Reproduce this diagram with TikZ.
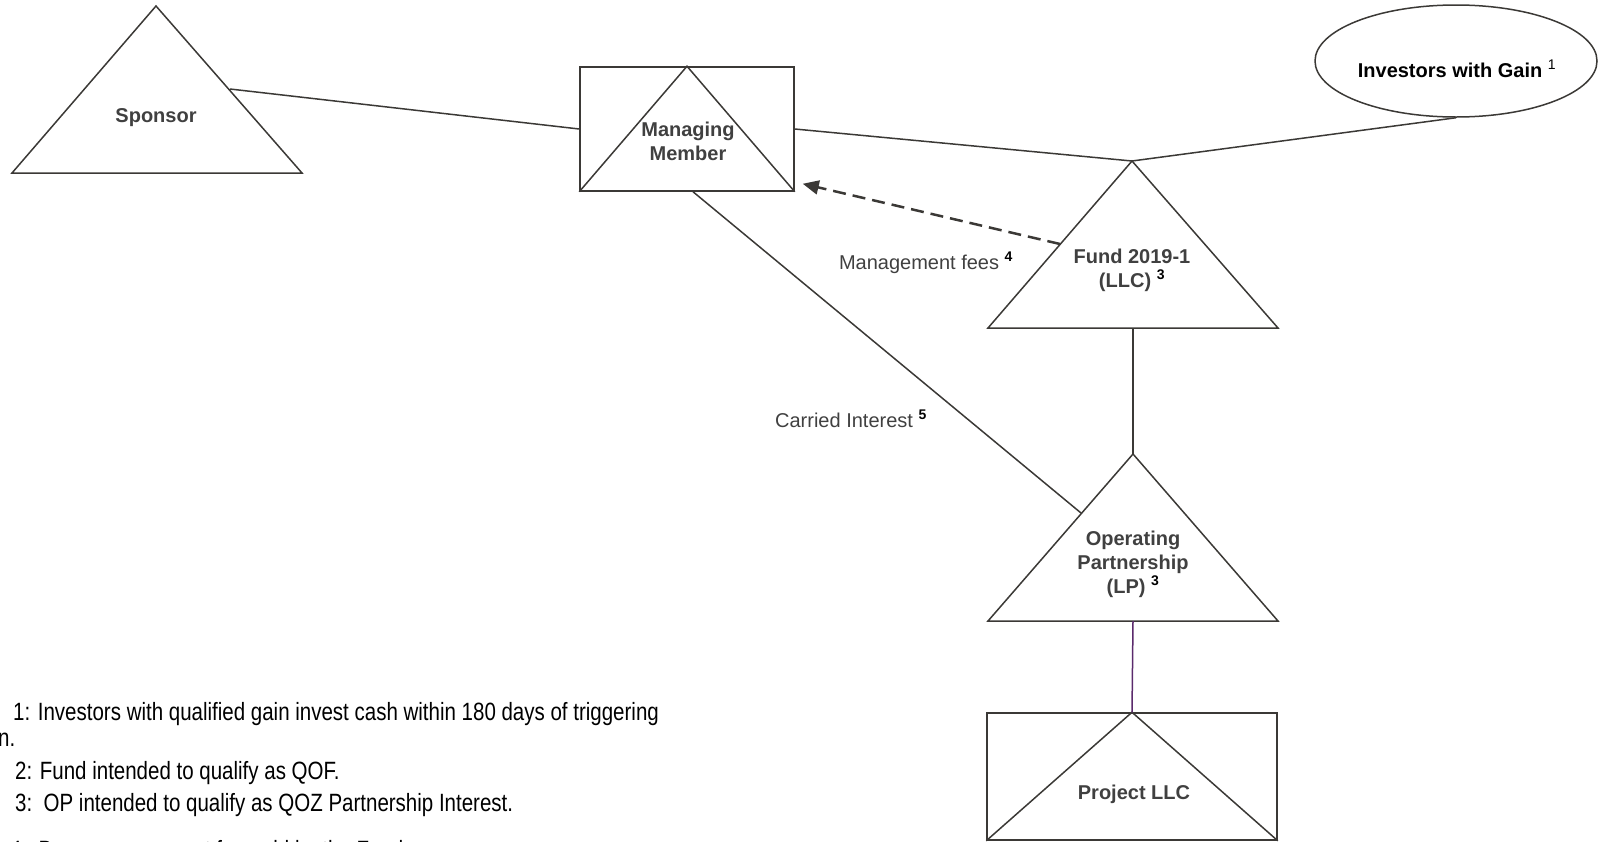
\documentclass[tikz,border=0pt]{standalone}
\usepackage{fontspec}
\setmainfont{Liberation Sans}
\newfontfamily\notefont[FakeStretch=0.82]{Liberation Sans}
\usetikzlibrary{shapes.geometric, arrows.meta, positioning}
\definecolor{mline}{HTML}{3B3936}
\definecolor{mtext}{HTML}{404040}
\definecolor{mpurp}{HTML}{5A2A6C}
\tikzstyle{entity} = [text=mtext, font=\bfseries\fontsize{20}{24}\selectfont, align=center, inner sep=0pt]
\tikzstyle{box} = [rectangle, draw=mline, line width=1.5pt, inner sep=0pt]
\tikzstyle{holder} = [ellipse, draw=mline, line width=1.5pt, inner sep=0pt]
\tikzstyle{wedge} = [draw=mline, line width=1.5pt, line join=miter]
\tikzstyle{link} = [draw=mline, line width=1.5pt]
\tikzstyle{fees} = [draw=mline, line width=2.5pt, dash pattern=on 13pt off 7pt, -{Triangle[length=16pt, width=14pt]}]
\tikzstyle{flow} = [text=mtext, font=\fontsize{20}{24}\selectfont, inner sep=0pt, anchor=base]
\tikzstyle{note} = [text=black, font=\notefont\fontsize{25}{29}\selectfont, inner sep=0pt, anchor=base west]
\newcommand{\fn}[1]{\textsuperscript{\color{black}\bfseries #1}}

\begin{document}
\begin{tikzpicture}[x=1pt, y=-1pt]
\useasboundingbox (0,0) rectangle (1602,841);
%Sponsor
\draw [wedge] (12,173) -- (156,6) -- (302,173) -- cycle;
\coordinate (sp-r) at (230,89);
\node (sponsor) [entity, anchor=base] at (156,122) {Sponsor};
%Managing Member
\node (mm) [box, minimum width=214pt, minimum height=124pt] at (687,129) {};
\draw [wedge] (mm.south west) -- (mm.north) -- (mm.south east);
\node (mmtext) [entity] at (688,141) {Managing\\Member};
%Investors
\node (inv) [holder, minimum width=282pt, minimum height=112pt] at (1456,61) {};
\node (invtext) [entity, text=black, anchor=base] at (1457,77) {Investors with Gain \textsuperscript{\mdseries 1}};
%Fund
\draw [wedge] (988,328) -- (1132,161) coordinate (fund-top) -- (1278,328) -- cycle;
\coordinate (fund-bot) at (1133,328);
\coordinate (fund-l) at (1060,244);
\node (fund) [entity] at (1132,270) {Fund 2019-1\\(LLC) \fn{3}};
%Operating Partnership
\draw [wedge] (988,621) -- (1133,454) coordinate (op-top) -- (1278,621) -- cycle;
\coordinate (op-bot) at (1133,621);
\coordinate (op-l) at (1081,513);
\node (op) [entity] at (1133,564) {Operating\\Partnership\\(LP) \fn{3}};
%Project
\node (proj) [box, minimum width=290pt, minimum height=127pt] at (1132,776.5) {};
\draw [wedge] (proj.south west) -- (proj.north) -- (proj.south east);
\node (projtext) [entity, anchor=base] at (1134,799) {Project LLC};
%Connectors
\draw [link] (sp-r) -- (mm.west);
\draw [link] (mm.east) -- (fund-top);
\draw [link] (inv.south) -- (fund-top);
\draw [link] (fund-bot) -- (op-top);
\draw [link, draw=mpurp] (op-bot) -- (proj.north);
\draw [link] ([xshift=6pt]mm.south) -- (op-l);
\draw [fees] (fund-l) -- ([shift={(8,-8)}]mm.south east);
\node (mgmt) [flow] at (926,269) {Management fees \fn{4}};
\node (carry) [flow] at (851,427) {Carried Interest \fn{5}};
%Notes
\node (n1) [note] at (13,720) {1: Investors with qualified gain invest cash within 180 days of triggering};
\node (n1b) [note] at (-2,746) {n.};
\node (n2) [note] at (15,779) {2: Fund intended to qualify as QOF.};
\node (n3) [note] at (15,811) {3:\ \ OP intended to qualify as QOZ Partnership Interest.};
\node (n4) [note] at (10,858) {4:\ \ Base management fee paid by the Fund.};
\end{tikzpicture}
\end{document}
